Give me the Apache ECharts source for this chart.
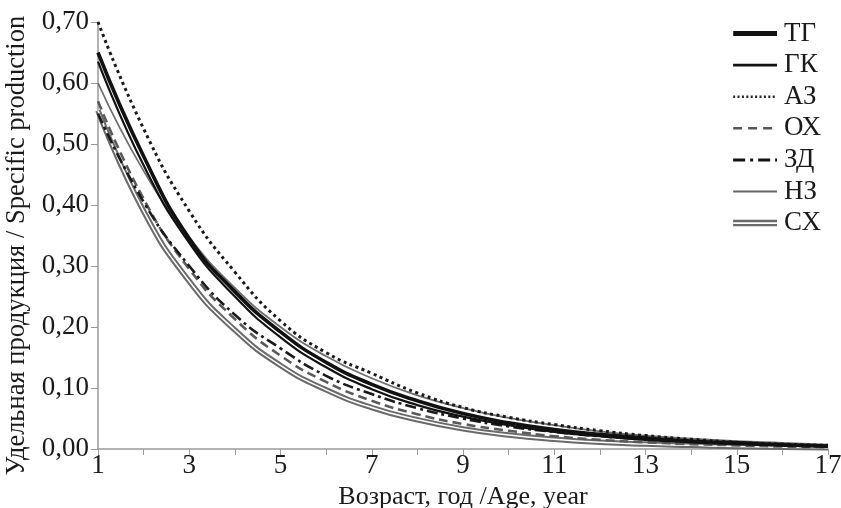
<!DOCTYPE html>
<html>
<head>
<meta charset="utf-8">
<script src="https://cdn.jsdelivr.net/npm/echarts@6/dist/echarts.min.js"></script>
<style>
html,body{margin:0;padding:0;background:#fff;}
#chart{width:841px;height:508px;}
</style>
</head>
<body>
<div id="chart"></div>
<script>
// возраст, год
var ages = [1,2,3,4,5,6,7,8,9,10,11,12,13,14,15,16,17];
// удельная продукция по группам
var tg = [0.650,0.480,0.345,0.258,0.192,0.142,0.106,0.079,0.058,0.043,0.032,0.024,0.018,0.013,0.010,0.007,0.005];
var gk = [0.635,0.465,0.338,0.250,0.183,0.134,0.098,0.072,0.053,0.039,0.028,0.021,0.015,0.011,0.008,0.006,0.004];
var az = [0.700,0.525,0.390,0.290,0.210,0.158,0.124,0.092,0.068,0.052,0.040,0.030,0.022,0.016,0.011,0.008,0.006];
var oh = [0.570,0.410,0.295,0.213,0.153,0.110,0.079,0.057,0.041,0.030,0.021,0.015,0.011,0.008,0.006,0.004,0.003];
var zd = [0.550,0.405,0.300,0.220,0.165,0.120,0.090,0.067,0.050,0.037,0.028,0.021,0.016,0.012,0.009,0.006,0.004];
var nz = [0.600,0.456,0.347,0.264,0.200,0.152,0.116,0.088,0.067,0.051,0.039,0.029,0.022,0.017,0.013,0.010,0.007];
var sh = [0.555,0.390,0.275,0.195,0.137,0.097,0.068,0.048,0.033,0.023,0.016,0.011,0.008,0.006,0.004,0.003,0.002];

var FONT = '"Liberation Serif","DejaVu Serif",serif';
var TXT = '#1a1a1a';

function pairs(arr){
	var out = [];
	for(var i=0;i<ages.length;i++){ out.push([ages[i], arr[i]]); }
	return out;
}
function line(name, data, color, width, type, z){
	return {
		name : name,
		type : 'line',
		data : pairs(data),
		smooth : true,
		symbol : 'none',
		z : z || 2,
		lineStyle : { color : color, width : width, type : type || 'solid' },
		itemStyle : { color : color }
	};
}
// значок легенды как маленькая svg-картинка
function icon(inner){
	return 'image://data:image/svg+xml;utf8,' + encodeURIComponent(
		'<svg xmlns="http://www.w3.org/2000/svg" width="44" height="14">' + inner + '</svg>');
}
function stroke(color, w, dash){
	return '<line x1="0" y1="7" x2="44" y2="7" stroke="' + color + '" stroke-width="' + w + '"' +
		(dash ? ' stroke-dasharray="' + dash + '"' : '') + '/>';
}

var series = [
	line('СХ', sh, '#6a6a6a', 5.5, 'solid', 2),
	line('НЗ', nz, '#6e6e6e', 1.8, 'solid', 3),
	line('ОХ', oh, '#5a5a5a', 2.6, [9,5], 3),
	line('ЗД', zd, '#1a1a1a', 2.6, [11,4,3,4], 4),
	line('АЗ', az, '#1a1a1a', 3, [3,3.5], 4),
	line('ГК', gk, '#111', 2.2, 'solid', 5),
	line('ТГ', tg, '#111', 3.6, 'solid', 5)
];
// белая середина двойной линии СХ
series.push({
	name : 'СХ-mid',
	type : 'line',
	data : pairs(sh),
	smooth : true,
	symbol : 'none',
	silent : true,
	z : 2,
	lineStyle : { color : '#fff', width : 1.5 }
});

var option = {
	backgroundColor : '#fff',
	animation : false,
	grid : { left : 98, right : 13, top : 22, bottom : 59, containLabel : false, outerBoundsMode : 'none' },
	legend : {
		orient : 'vertical',
		right : 15,
		top : 15,
		itemWidth : 44,
		itemHeight : 14,
		itemGap : 4.6,
		textStyle : { fontFamily : FONT, fontSize : 27, lineHeight : 27, color : TXT, padding : [0,0,0,2] },
		data : [
			{ name : 'ТГ', icon : icon(stroke('#111', 5)) },
			{ name : 'ГК', icon : icon(stroke('#111', 2.8)) },
			{ name : 'АЗ', icon : icon(stroke('#222', 2.4, '2,2.4')) },
			{ name : 'ОХ', icon : icon(stroke('#555', 2.6, '9,6')) },
			{ name : 'ЗД', icon : icon(stroke('#111', 3, '12,5,3,5')) },
			{ name : 'НЗ', icon : icon(stroke('#666', 2)) },
			{ name : 'СХ', icon : icon(stroke('#6a6a6a', 6.5) + stroke('#fff', 1.6)) }
		]
	},
	xAxis : {
		type : 'value',
		min : 1,
		max : 17,
		interval : 1,
		name : 'Возраст, год /Age, year',
		nameLocation : 'middle',
		nameGap : 29,
		nameTextStyle : { fontFamily : FONT, fontSize : 26, color : TXT },
		axisLine : { lineStyle : { color : '#9a9a9a', width : 1.5 } },
		axisTick : { lineStyle : { color : '#9a9a9a' }, length : 6 },
		splitLine : { show : false },
		axisLabel : {
			fontFamily : FONT, fontSize : 27, color : TXT, margin : 3,
			formatter : function(v){ return (v % 2 === 1) ? String(v) : ''; }
		}
	},
	yAxis : {
		type : 'value',
		min : 0,
		max : 0.7,
		interval : 0.1,
		name : 'Удельная продукция / Specific production',
		nameLocation : 'middle',
		nameGap : 53,
		nameTextStyle : { fontFamily : FONT, fontSize : 26.5, color : TXT, padding : [0,20,0,0] },
		axisLine : { show : true, lineStyle : { color : '#9a9a9a', width : 1.5 } },
		axisTick : { show : true, lineStyle : { color : '#9a9a9a' }, length : 7 },
		splitLine : { show : false },
		axisLabel : {
			fontFamily : FONT, fontSize : 27, color : TXT, margin : 9,
			formatter : function(v){ return v.toFixed(2).replace('.', ','); }
		}
	},
	series : series
};

var myChart = echarts.init(document.getElementById('chart'), null, { renderer : 'canvas' });
myChart.setOption(option);
</script>
</body>
</html>
